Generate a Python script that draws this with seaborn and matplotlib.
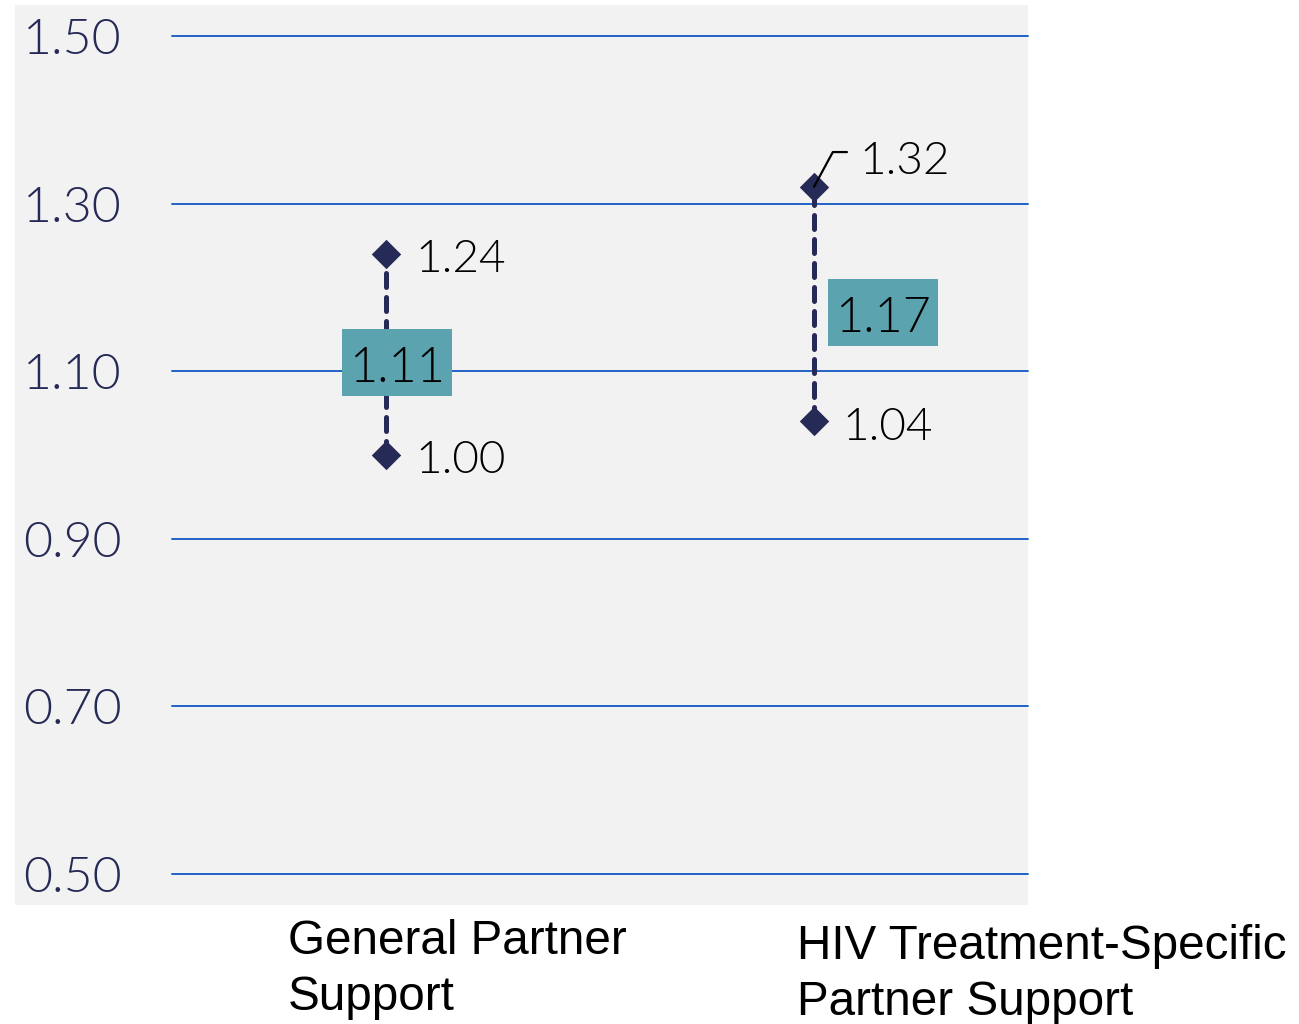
import matplotlib
matplotlib.use("Agg")
import matplotlib.pyplot as plt
import matplotlib.patches as mpatches
import seaborn as sns
import pandas as pd

# Data
categories = ["General Partner\nSupport", "HIV Treatment-Specific\nPartner Support"]
lower = [1.00, 1.04]
upper = [1.24, 1.32]
estimate = [1.11, 1.17]
y_ticks = [0.50, 0.70, 0.90, 1.10, 1.30, 1.50]

navy = "#262A56"
teal = "#5BA3AE"
grid_blue = "#2163C6"
panel_gray = "#F2F2F2"
num_font = ["Lato", "DejaVu Sans"]
num_weight = 300

sns.set_theme(style="white")
plt.rcParams["font.family"] = ["Liberation Sans", "DejaVu Sans"]

df = pd.DataFrame({
    "cat": [c for c in categories for _ in range(2)],
    "value": [v for lo, hi in zip(lower, upper) for v in (lo, hi)],
})

fig = plt.figure(figsize=(12.99, 10.24), dpi=100)
fig.patch.set_facecolor("white")
# grey panel behind the plot and the y tick labels
fig.patches.append(mpatches.Rectangle((15 / 1299, 119 / 1024), 1013 / 1299, 900 / 1024,
                                      transform=fig.transFigure, facecolor=panel_gray,
                                      edgecolor="none", zorder=-5))
ax = fig.add_axes([172 / 1299, 150 / 1024, 856 / 1299, 838 / 1024])
ax.set_facecolor("none")

# dashed ranges
for i, (lo, hi) in enumerate(zip(lower, upper)):
    ax.plot([i, i], [lo, hi], color=navy, lw=3.6, ls=(0, (2.8, 2.0)),
            dash_capstyle="round", zorder=3)

sns.stripplot(data=df, x="cat", y="value", jitter=False, marker="D", size=15,
              color=navy, linewidth=0, ax=ax, zorder=4)

# estimate boxes
box_dx = [0.026, 0.161]
bw, bh = 110 / 428, 67 / 838
dy = -0.007  # nudge text so digits sit centred
for i, (est, dx) in enumerate(zip(estimate, box_dx)):
    cx = i + dx
    ax.add_patch(mpatches.Rectangle((cx - bw / 2, est - bh / 2), bw, bh,
                                    facecolor=teal, edgecolor="none", zorder=5))
    ax.text(cx, est + dy, f"{est:.2f}", ha="center", va="center", fontsize=35,
            color="black", family=num_font, weight=num_weight, zorder=6)

# end labels
lab_kw = dict(ha="left", va="center", fontsize=33, color="black",
              family=num_font, weight=num_weight, zorder=6)
ax.text(0 + 0.068, upper[0] + dy, f"{upper[0]:.2f}", **lab_kw)
ax.text(0 + 0.068, lower[0] + dy, f"{lower[0]:.2f}", **lab_kw)
ax.text(1 + 0.065, lower[1] + dy, f"{lower[1]:.2f}", **lab_kw)
ax.text(1 + 0.107, upper[1] + 0.037 + dy, f"{upper[1]:.2f}", **lab_kw)
ax.plot([1, 1 + 0.044, 1 + 0.077], [upper[1], upper[1] + 0.0415, upper[1] + 0.0415],
        color="black", lw=1.6, zorder=5)

ax.set_xlim(-0.5, 1.5)
ax.set_ylim(0.5, 1.5)
ax.set_yticks(y_ticks)
ax.set_yticklabels([f"{t:.2f}" for t in y_ticks], color=navy, fontsize=36,
                   family=num_font, weight=num_weight)
ax.tick_params(axis="y", length=0, pad=36)
ax.tick_params(axis="x", length=0)
ax.set_xticklabels([])
ax.set_xlabel("")
ax.set_ylabel("")
for s in ax.spines.values():
    s.set_visible(False)
for t in y_ticks:
    ax.axhline(t, color=grid_blue, lw=1.4, zorder=1, clip_on=False)

# category labels, left aligned under the panel
label_x = [-0.229, 0.960]
label_y = [-0.054, -0.060]
for lx, ly, lab in zip(label_x, label_y, categories):
    ax.text(lx, ly, lab, transform=ax.get_xaxis_transform(), ha="left", va="top",
            fontsize=34.3, color="black", linespacing=1.3)

fig.savefig("out.png", dpi=100)
